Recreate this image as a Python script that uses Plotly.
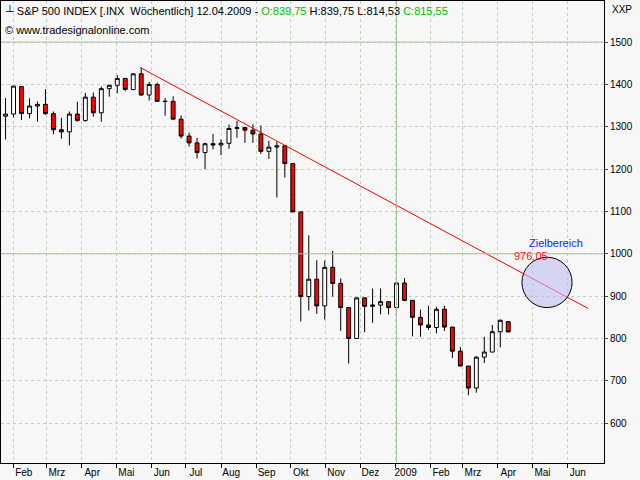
import plotly.graph_objects as go
import pandas as pd

dates = pd.date_range("2008-01-25", periods=64, freq="7D").strftime("%Y-%m-%d").tolist()
opens = [1325,1330,1395,1331,1349,1353,1331,1293,1288,1330,1315,1370,1333,1390,1398,1414,1388,1425,1375,1400,1360,1360,1318,1278,1262,1239,1260,1257,1261,1296,1298,1292,1283,1242,1252,1255,1213,1099,899,940,877,968,930,873,800,896,876,879,887,873,931,890,850,832,826,869,827,770,735,683,756,768,816,839.75]
highs = [1368,1396,1395,1367,1360,1389,1336,1321,1336,1359,1380,1381,1395,1399,1422,1415,1426,1440,1406,1404,1368,1372,1327,1286,1274,1262,1283,1270,1305,1314,1300,1306,1303,1267,1265,1255,1213,1099,1044,985,984,1007,942,873,896,896,918,918,887,934,943,890,868,877,875,877,827,780,735,758,804,832,845,839.75]
lows = [1270,1322,1316,1320,1312,1328,1282,1272,1256,1312,1312,1324,1312,1371,1379,1384,1386,1373,1362,1359,1326,1317,1272,1253,1225,1200,1247,1233,1248,1274,1262,1262,1236,1224,1133,1180,1098,840,866,858,845,899,818,741,800,815,837,857,857,857,888,805,804,820,812,818,754,734,666,672,742,768,779,814.53]
closes = [1330,1396,1331,1349,1353,1331,1293,1288,1330,1315,1370,1333,1390,1398,1414,1388,1425,1375,1400,1360,1360,1318,1278,1262,1239,1260,1257,1261,1296,1298,1292,1283,1242,1252,1255,1213,1099,899,940,877,968,930,873,800,896,876,879,887,873,931,890,850,832,826,869,827,770,735,683,756,768,816,843,815.55]

trend_x = ["2008-05-22", "2009-06-19"]
trend_y = [1440, 871]
month_starts = pd.date_range("2008-02-01", "2009-06-01", freq="MS")
month_names = ["Feb","Mrz","Apr","Mai","Jun","Jul","Aug","Sep","Okt","Nov","Dez","2009","Feb","Mrz","Apr","Mai","Jun"]
ytick_vals = [600,700,800,900,1000,1100,1200,1300,1400,1500]

fig = go.Figure()
fig.add_trace(go.Candlestick(x=dates, open=opens, high=highs, low=lows, close=closes,
    increasing=dict(line=dict(color="black", width=1), fillcolor="white"),
    decreasing=dict(line=dict(color="black", width=1), fillcolor="#ff0000"),
    whiskerwidth=0, showlegend=False, hoverinfo="skip"))
fig.add_trace(go.Scatter(x=trend_x, y=trend_y, mode="lines", line=dict(color="#ff0000", width=1), showlegend=False, hoverinfo="skip"))

fig.add_shape(type="line", xref="paper", x0=0, x1=1, yref="y", y0=1000, y1=1000, line=dict(color="#a8c0a0", width=1))
fig.add_shape(type="line", xref="paper", x0=0, x1=1, yref="y", y0=1500, y1=1500, line=dict(color="#a8c0a0", width=1))
fig.add_shape(type="line", x0="2009-01-02", x1="2009-01-02", yref="paper", y0=0, y1=1, line=dict(color="#a8c0a0", width=1))
fig.add_shape(type="circle", x0="2009-04-22", x1="2009-06-05", y0=873, y1=992,
              line=dict(color="black", width=1), fillcolor="rgba(190,190,240,0.6)")

tickx = [(d + pd.Timedelta(days=9)).strftime("%Y-%m-%d") for d in month_starts]
font = dict(family="Liberation Sans", size=10, color="black")
fig.update_layout(
    width=640, height=480, margin=dict(l=1, r=36, t=1, b=17),
    paper_bgcolor="#f7f7f7", plot_bgcolor="#f7f7f7", font=font,
    xaxis=dict(range=["2008-01-21", "2009-07-03"], rangeslider=dict(visible=False),
               tickvals=tickx, ticktext=month_names, ticks="", showgrid=False,
               minor=dict(tickvals=month_starts.strftime("%Y-%m-%d").tolist(), ticks="outside", ticklen=4, tickcolor="black", showgrid=True, gridcolor="#c0d4b8", griddash="dot"),
               showline=True, linecolor="black", mirror=True, zeroline=False, tickfont=font),
    yaxis=dict(range=[506, 1597], side="right", tickvals=ytick_vals, ticks="outside", ticklen=3,
               gridcolor="#c0d4b8", griddash="dot", showline=True, linecolor="black", mirror=True,
               zeroline=False, tickfont=font),
    annotations=[
        dict(xref="paper", yref="paper", x=0.003, y=0.998, xanchor="left", yanchor="top", showarrow=False,
             text="\u2534 S&P 500 INDEX [.INX  Wöchentlich] 12.04.2009 - <span style='color:#00c000'>O:839,75</span> H:839,75 L:814,53 <span style='color:#00c000'>C:815,55</span>",
             font=dict(family="Liberation Sans", size=11, color="black")),
        dict(xref="paper", yref="paper", x=0.003, y=0.955, xanchor="left", yanchor="top", showarrow=False,
             text="© www.tradesignalonline.com", font=dict(family="Liberation Sans", size=11, color="black")),
        dict(xref="paper", yref="paper", x=1.01, y=0.998, xanchor="left", yanchor="top", showarrow=False,
             text="XXP", font=dict(family="Liberation Sans", size=10, color="black")),
        dict(x="2009-05-22", y=1025, text="Zielbereich", showarrow=False, font=dict(family="Liberation Sans", size=11, color="#2020ff")),
        dict(x="2009-04-30", y=994, text="976,05", showarrow=False, font=dict(family="Liberation Sans", size=11, color="#ff2020")),
    ],
)
fig.write_html("out.html", config={"displayModeBar": False})
with open("out.html", encoding="utf-8") as f:
    html = f.read()
html = html.replace("<body>", "<body style=\"margin:0;background:#f7f7f7\">", 1)
with open("out.html", "w", encoding="utf-8") as f:
    f.write(html)
